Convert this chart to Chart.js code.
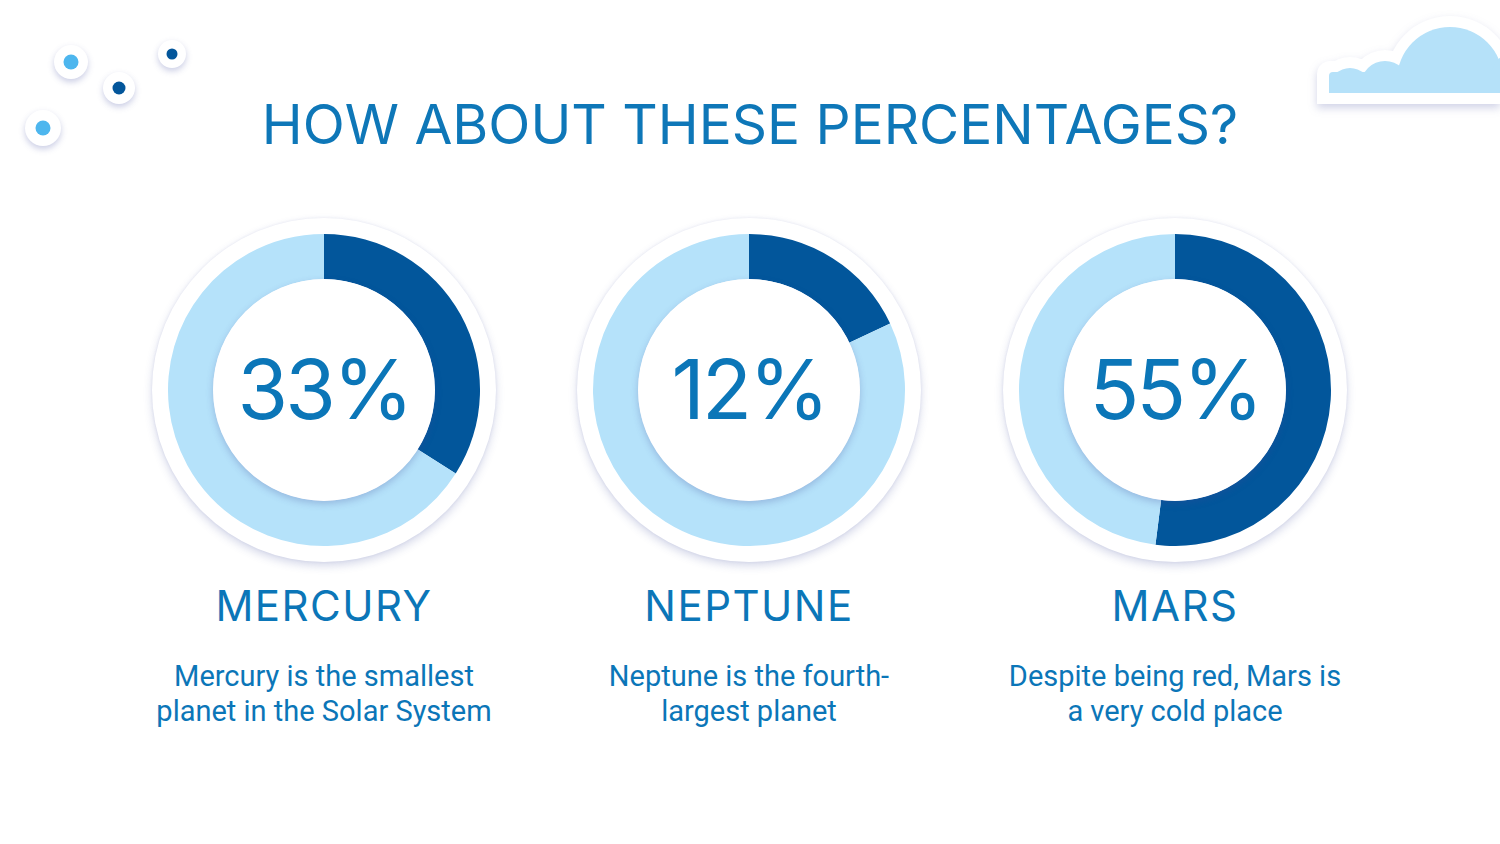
<!DOCTYPE html>
<html>
<head>
<meta charset="utf-8">
<script src="https://cdn.jsdelivr.net/npm/chart.js@4.4.1/dist/chart.umd.min.js"></script>
<style>
  html, body { margin:0; padding:0; background:#ffffff; }
  body { width:1500px; height:844px; position:relative; overflow:hidden; font-family:"Inter", sans-serif; }
  .title { position:absolute; left:0; width:1500px; top:92px; text-align:center; color:#0e77b8;
           font-family:"Inter", sans-serif; font-weight:400; font-size:55px; line-height:64px; letter-spacing:0px; white-space:nowrap; }
  .plate { position:absolute; width:344px; height:344px; border-radius:50%; background:#fff;
           box-shadow: 0 4px 9px rgba(70,80,160,0.22), 0 0 3px rgba(70,80,160,0.10); }
  .chartbox { position:absolute; width:312px; height:312px; }
  .hole { position:absolute; width:222px; height:222px; border-radius:50%; background:#fff;
          box-shadow: 0 3px 7px rgba(60,70,150,0.26); }
  .pct { position:absolute; width:300px; text-align:center; color:#0b76b8; font-family:"Inter", sans-serif;
         font-weight:400; font-size:82px; line-height:100px; letter-spacing:-3px; }
  .name { position:absolute; width:400px; text-align:center; color:#0b76b8; font-family:"Inter", sans-serif;
          font-weight:400; font-size:42px; line-height:50px; letter-spacing:1.5px; }
  .desc { position:absolute; width:440px; text-align:center; color:#0b76b8; font-family:"Roboto", sans-serif;
          font-weight:400; font-size:29px; line-height:35px; }
  .dot { position:absolute; border-radius:50%; background:#fff; box-shadow:0 3px 6px rgba(70,80,160,0.28); }
  .dot i { position:absolute; border-radius:50%; left:50%; top:50%; transform:translate(-50%,-50%); }
</style>
</head>
<body>
<div class="title" id="title">HOW ABOUT THESE PERCENTAGES?</div>

<div class="dot" style="left:54px;top:45px;width:34px;height:34px;"><i style="width:15px;height:15px;background:#4db6ee;"></i></div>
<div class="dot" style="left:103px;top:72px;width:32px;height:32px;"><i style="width:13px;height:13px;background:#03569b;"></i></div>
<div class="dot" style="left:158px;top:40px;width:28px;height:28px;"><i style="width:11px;height:11px;background:#03569b;"></i></div>
<div class="dot" style="left:25px;top:110px;width:36px;height:36px;"><i style="width:15px;height:15px;background:#4db6ee;"></i></div>

<svg style="position:absolute;left:1290px;top:0;filter:drop-shadow(0 4px 4px rgba(70,80,160,0.25));" width="210" height="130" viewBox="1290 0 210 130">
  <defs>
    <clipPath id="cw"><rect x="1290" y="0" width="260" height="104"/></clipPath>
    <clipPath id="cb"><rect x="1290" y="0" width="260" height="93"/></clipPath>
  </defs>
  <g fill="#ffffff" clip-path="url(#cw)">
    <circle cx="1350" cy="88" r="31"/>
    <circle cx="1385" cy="85" r="35"/>
    <circle cx="1450" cy="80" r="64"/>
    <circle cx="1520" cy="80" r="41"/>
    <rect x="1317" y="61" width="220" height="60" rx="13"/>
  </g>
  <g fill="#b5e1f9" clip-path="url(#cb)">
    <circle cx="1350" cy="88" r="20"/>
    <circle cx="1385" cy="85" r="24"/>
    <circle cx="1450" cy="80" r="53"/>
    <circle cx="1520" cy="80" r="30"/>
    <rect x="1329" y="72" width="200" height="40" rx="4"/>
  </g>
</svg>

<div id="panels"></div>

<script>
// ---- data ----
const planets = ["MERCURY", "NEPTUNE", "MARS"];
const percentLabels = ["33%", "12%", "55%"];
const arcValues = [34, 18, 52];           // dark-segment share read from the drawn rings
const descriptions = [
  ["Mercury is the smallest", "planet in the Solar System"],
  ["Neptune is the fourth-", "largest planet"],
  ["Despite being red, Mars is", "a very cold place"]
];
const centersX = [324, 749, 1175];

// ---- colours ----
const darkBlue = "#02569b";
const lightBlue = "#b5e2fa";

const panels = document.getElementById("panels");
const cy = 390;

planets.forEach((p, i) => {
  const cx = centersX[i];
  const plate = document.createElement("div");
  plate.className = "plate";
  plate.style.left = (cx - 172) + "px";
  plate.style.top = (cy - 172) + "px";
  panels.appendChild(plate);

  const box = document.createElement("div");
  box.className = "chartbox";
  box.style.left = (cx - 156) + "px";
  box.style.top = (cy - 156) + "px";
  const cv = document.createElement("canvas");
  cv.width = 312; cv.height = 312;
  box.appendChild(cv);
  panels.appendChild(box);

  new Chart(cv, {
    type: "doughnut",
    data: {
      labels: [p, "rest"],
      datasets: [{
        data: [arcValues[i], 100 - arcValues[i]],
        backgroundColor: [darkBlue, lightBlue],
        borderWidth: 0
      }]
    },
    options: {
      responsive: false,
      animation: false,
      events: [],
      cutout: "71%",
      layout: { padding: 0 },
      plugins: { legend: { display: false }, tooltip: { enabled: false } }
    }
  });

  const hole = document.createElement("div");
  hole.className = "hole";
  hole.style.left = (cx - 111) + "px";
  hole.style.top = (cy - 111) + "px";
  panels.appendChild(hole);

  const pct = document.createElement("div");
  pct.className = "pct";
  pct.textContent = percentLabels[i];
  pct.style.left = (cx - 150) + "px";
  pct.style.top = (cy - 50) + "px";
  panels.appendChild(pct);

  const nm = document.createElement("div");
  nm.className = "name";
  nm.textContent = p;
  nm.style.left = (cx - 200) + "px";
  nm.style.top = "581px";
  panels.appendChild(nm);

  const ds = document.createElement("div");
  ds.className = "desc";
  ds.innerHTML = descriptions[i].join("<br>");
  ds.style.left = (cx - 220) + "px";
  ds.style.top = "659px";
  panels.appendChild(ds);
});
</script>
</body>
</html>
